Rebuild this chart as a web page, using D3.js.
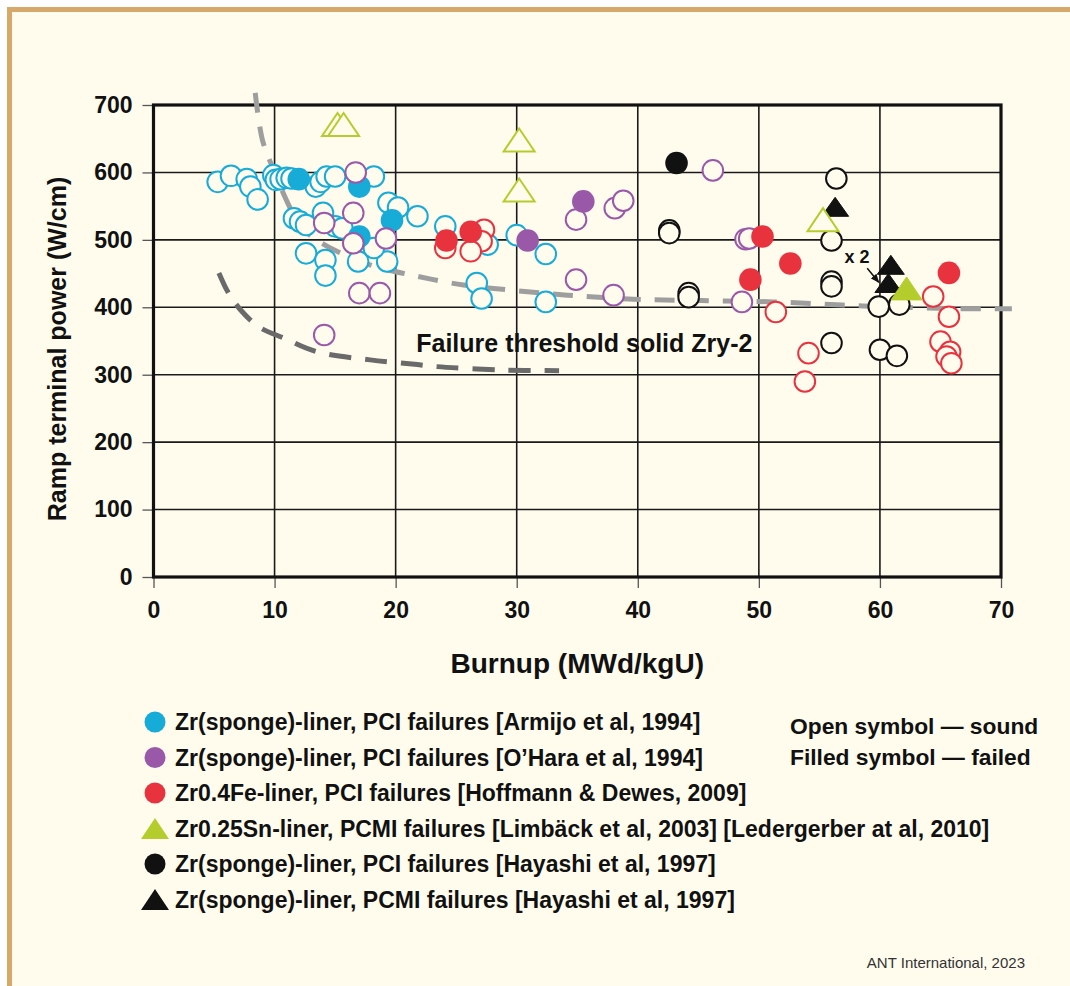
<!DOCTYPE html>
<html><head><meta charset="utf-8">
<script src="https://cdn.jsdelivr.net/npm/d3@7"></script>
<style>
html,body{margin:0;padding:0;background:#fff;}
svg{display:block;font-family:"Liberation Sans",Arial,Helvetica,sans-serif;}
</style></head><body>
<svg id="chart" width="1070" height="986"></svg>
<script>
// ---------------- DATA ----------------
const xTicks = [0, 10, 20, 30, 40, 50, 60, 70];
const yTicks = [0, 100, 200, 300, 400, 500, 600, 700];
const xTitle = "Burnup (MWd/kgU)";
const yTitle = "Ramp terminal power (W/cm)";

// Armijo 1994 (cyan)
const armijoSoundX = [5.3, 6.4, 7.7, 8.0, 8.6, 9.9, 10.1, 10.5, 11.0, 11.4, 13.4, 13.8, 14.3, 15.0, 18.2,
  11.6, 12.1, 12.6, 14.0, 15.0, 15.6, 19.4, 20.2, 21.8, 12.6, 14.2, 14.2, 16.9, 19.3, 18.2,
  24.1, 27.6, 30.0, 32.4, 26.7, 27.1, 32.4];
const armijoSoundY = [586, 595, 590, 579, 560, 596, 589, 590, 592, 591, 579, 586, 594, 594, 594,
  532, 527, 522, 540, 520, 517, 555, 548, 535, 480, 470, 447, 468, 468, 488,
  520, 493, 507, 479, 436, 413, 408];
const armijoFailX = [12.0, 17.0, 17.0, 19.7];
const armijoFailY = [590, 579, 505, 529];

// O'Hara 1994 (purple)
const oharaSoundX = [16.7, 14.1, 16.5, 19.2, 16.5, 17.0, 18.7, 14.1, 34.9, 38.1, 38.8, 34.9, 38.0, 46.2, 48.9, 49.2, 48.6];
const oharaSoundY = [600, 525, 540, 502, 495, 421, 421, 359, 530, 547, 558, 441, 418, 603, 501, 502, 408];
const oharaFailX = [30.9, 35.5];
const oharaFailY = [499, 557];

// Hoffmann & Dewes 2009 (red)
const hoffSoundX = [24.1, 27.3, 27.1, 26.2, 51.4, 54.1, 53.8, 64.4, 65.7, 65.0, 65.8, 65.5, 65.9];
const hoffSoundY = [488, 515, 498, 483, 393, 332, 290, 416, 386, 349, 334, 327, 317];
const hoffFailX = [24.2, 26.2, 50.3, 52.6, 49.3, 65.7];
const hoffFailY = [499, 512, 505, 465, 441, 451];

// Limbäck / Ledergerber (green triangles)
const limbackSoundX = [15.2, 15.7, 30.2, 30.2, 55.3];
const limbackSoundY = [671, 671, 648, 574, 530];
const limbackFailX = [62.2];
const limbackFailY = [428];

// Hayashi 1997 (black)
const hayashiSoundX = [42.6, 42.6, 44.2, 44.2, 56.4, 56.0, 56.0, 56.0, 56.0, 59.9, 61.6, 60.0, 61.4];
const hayashiSoundY = [514, 510, 421, 415, 591, 499, 438, 431, 347, 401, 404, 337, 328];
const hayashiFailX = [43.2];
const hayashiFailY = [614];
const hayashiPcmiFailX = [56.3, 60.9, 60.7];
const hayashiPcmiFailY = [549, 463, 436];

// threshold curves
const solidZryX = [8.4, 9.0, 9.8, 11.5, 12.6, 14.0, 15.4, 18.0, 21.8, 25.6, 29.2, 34.2, 39.6, 45.2, 51.2, 58.6, 66.4, 70.9];
const solidZryY = [718, 648, 609, 540, 512, 494, 481, 462, 446, 433, 426, 418, 412, 410, 408, 402, 398, 398];
const linerCurveX = [5.4, 6.2, 7.2, 8.7, 10.8, 13.5, 17.9, 21.8, 23.4, 28.9, 33.5];
const linerCurveY = [451, 421, 396, 371, 354, 334, 322, 315, 312, 307, 306];

const legendLabels = [
  "Zr(sponge)-liner, PCI failures [Armijo et al, 1994]",
  "Zr(sponge)-liner, PCI failures [O\u2019Hara et al, 1994]",
  "Zr0.4Fe-liner, PCI failures [Hoffmann & Dewes, 2009]",
  "Zr0.25Sn-liner, PCMI failures [Limb\u00e4ck et al, 2003] [Ledergerber at al, 2010]",
  "Zr(sponge)-liner, PCI failures [Hayashi et al, 1997]",
  "Zr(sponge)-liner, PCMI failures [Hayashi et al, 1997]"
];
const thresholdLabel = "Failure threshold solid Zry-2";
const noteLines = ["Open symbol \u2014 sound", "Filled symbol \u2014 failed"];
const creditText = "ANT International, 2023";

// ---------------- STYLE ----------------
const C = {cyan: "#17acd8", purple: "#9a59a8", red: "#e8333e", green: "#b5cd2c", black: "#111111"};
const BG = "#fffcee";
const legendColors = [C.cyan, C.purple, C.red, C.green, C.black, C.black];
const legendShapes = ["circle", "circle", "circle", "triangle", "circle", "triangle"];

const series = [
  {x: armijoSoundX, y: armijoSoundY, c: C.cyan, s: "circle", f: false},
  {x: armijoFailX, y: armijoFailY, c: C.cyan, s: "circle", f: true},
  {x: oharaSoundX, y: oharaSoundY, c: C.purple, s: "circle", f: false},
  {x: oharaFailX, y: oharaFailY, c: C.purple, s: "circle", f: true},
  {x: hoffSoundX, y: hoffSoundY, c: C.red, s: "circle", f: false},
  {x: hoffFailX, y: hoffFailY, c: C.red, s: "circle", f: true},
  {x: hayashiSoundX, y: hayashiSoundY, c: C.black, s: "circle", f: false},
  {x: hayashiFailX, y: hayashiFailY, c: C.black, s: "circle", f: true},
  {x: hayashiPcmiFailX, y: hayashiPcmiFailY, c: C.black, s: "tri-s", f: true},
  {x: limbackSoundX, y: limbackSoundY, c: C.green, s: "tri", f: false},
  {x: limbackFailX, y: limbackFailY, c: C.green, s: "tri", f: true}
];

// ---------------- DRAW ----------------
const svg = d3.select("#chart");
svg.append("rect").attr("x", 0).attr("y", 0).attr("width", 1070).attr("height", 986).attr("fill", "#ffffff");
svg.append("rect").attr("x", 9.5).attr("y", 9.5).attr("width", 1100).attr("height", 1000)
  .attr("fill", BG).attr("stroke", "#d6a86a").attr("stroke-width", 5);

const x = d3.scaleLinear().domain([0, 70]).range([153.5, 1001]);
const y = d3.scaleLinear().domain([0, 700]).range([577, 105]);

const grid = svg.append("g");
grid.selectAll("line.v").data(xTicks.slice(1, -1)).join("line")
  .attr("x1", d => x(d)).attr("x2", d => x(d)).attr("y1", y(700)).attr("y2", y(0))
  .attr("stroke", "#1a1a1a").attr("stroke-width", 1.6);
grid.selectAll("line.h").data(yTicks.slice(1, -1)).join("line")
  .attr("y1", d => y(d)).attr("y2", d => y(d)).attr("x1", x(0)).attr("x2", x(70))
  .attr("stroke", "#1a1a1a").attr("stroke-width", 1.6);

// axes
const xAxis = svg.append("g").attr("transform", `translate(0,${y(0)})`)
  .call(d3.axisBottom(x).tickValues(xTicks).tickSize(11).tickPadding(10).tickFormat(d3.format("d")));
const yAxis = svg.append("g").attr("transform", `translate(${x(0)},0)`)
  .call(d3.axisLeft(y).tickValues(yTicks).tickSize(11).tickPadding(10).tickFormat(d3.format("d")));
[xAxis, yAxis].forEach(a => {
  a.select(".domain").remove();
  a.selectAll(".tick line").attr("stroke", "#555").attr("stroke-width", 1.3);
  a.selectAll(".tick text").attr("fill", "#111").attr("font-size", 23).attr("font-weight", "bold")
    .attr("font-family", "'Liberation Sans',Arial,sans-serif");
});
xAxis.selectAll(".tick text").attr("dy", "0.85em");

// plot frame
svg.append("rect").attr("x", x(0)).attr("y", y(700)).attr("width", x(70) - x(0)).attr("height", y(0) - y(700))
  .attr("fill", "none").attr("stroke", "#111").attr("stroke-width", 3.2);

// threshold curves
svg.append("path").datum(d3.zip(solidZryX, solidZryY))
  .attr("d", d3.line().x(d => x(d[0])).y(d => y(d[1])).curve(d3.curveCatmullRom)).attr("fill", "none")
  .attr("stroke", "#9e9e9e").attr("stroke-width", 5).attr("stroke-dasharray", "20 14");
svg.append("path").datum(d3.zip(linerCurveX, linerCurveY))
  .attr("d", d3.line().x(d => x(d[0])).y(d => y(d[1])).curve(d3.curveCatmullRom)).attr("fill", "none")
  .attr("stroke", "#6a6a6a").attr("stroke-width", 5).attr("stroke-dasharray", "22 14");

svg.append("text").attr("x", x(21.7)).attr("y", y(334)).text(thresholdLabel)
  .attr("font-size", 25).attr("font-weight", "bold").attr("fill", "#111");

// markers
function triPath(w, h) { return `M0,${-h / 2}L${w / 2},${h / 2}L${-w / 2},${h / 2}Z`; }
const pts = svg.append("g");
series.forEach(s => {
  const data = d3.zip(s.x, s.y);
  if (s.s === "circle") {
    pts.append("g").selectAll("circle").data(data).join("circle")
      .attr("cx", d => x(d[0])).attr("cy", d => y(d[1]))
      .attr("r", s.f ? 11.3 : 10.3)
      .attr("fill", s.f ? s.c : BG)
      .attr("stroke", s.f ? "none" : s.c).attr("stroke-width", 2);
  } else {
    const w = s.s === "tri-s" ? 27 : 31, h = s.s === "tri-s" ? 19 : 23;
    pts.append("g").selectAll("path").data(data).join("path")
      .attr("transform", d => `translate(${x(d[0])},${y(d[1])})`)
      .attr("d", triPath(w, h))
      .attr("fill", s.f ? s.c : BG)
      .attr("stroke", s.c).attr("stroke-width", s.f ? 1 : 2).attr("stroke-linejoin", "miter");
  }
});

// x 2 annotation
svg.append("text").attr("x", x(58.1)).attr("y", y(474.6)).attr("dy", "0.35em").attr("text-anchor", "middle")
  .attr("font-size", 18).attr("font-weight", "bold").attr("fill", "#111").text("x 2");
svg.append("defs").append("marker").attr("id", "ah").attr("viewBox", "0 0 10 10").attr("refX", 9).attr("refY", 5)
  .attr("markerWidth", 6).attr("markerHeight", 6).attr("orient", "auto")
  .append("path").attr("d", "M0,1L10,5L0,9Z").attr("fill", "#111");
svg.append("line").attr("x1", x(58.95)).attr("y1", y(458)).attr("x2", x(59.9)).attr("y2", y(437))
  .attr("stroke", "#111").attr("stroke-width", 1.5).attr("marker-end", "url(#ah)");

// axis titles
svg.append("text").attr("x", (x(0) + x(70)) / 2).attr("y", 673).attr("text-anchor", "middle")
  .attr("font-size", 28).attr("font-weight", "bold").attr("fill", "#111").text(xTitle);
svg.append("text").attr("transform", `translate(66,${(y(0) + y(700)) / 2 + 8}) rotate(-90)`).attr("text-anchor", "middle")
  .attr("font-size", 25).attr("font-weight", "bold").attr("fill", "#111").text(yTitle);

// legend
const lg = svg.append("g");
legendLabels.forEach((t, i) => {
  const cy = 722 + i * 35.5;
  if (legendShapes[i] === "circle") {
    lg.append("circle").attr("cx", 155).attr("cy", cy).attr("r", 10.5).attr("fill", legendColors[i]);
  } else {
    lg.append("path").attr("transform", `translate(155,${cy})`).attr("d", triPath(28, 21)).attr("fill", legendColors[i]);
  }
  lg.append("text").attr("x", 175).attr("y", cy).attr("dy", "0.36em").attr("font-size", 23)
    .attr("font-weight", "bold").attr("fill", "#111").text(t);
});
noteLines.forEach((t, i) => {
  svg.append("text").attr("x", 790).attr("y", 726 + i * 31).attr("dy", "0.36em").attr("font-size", 22.8)
    .attr("font-weight", "bold").attr("fill", "#111").text(t);
});
svg.append("text").attr("x", 1025).attr("y", 968).attr("text-anchor", "end").attr("font-size", 15)
  .attr("fill", "#333").text(creditText);
</script>
</body></html>
